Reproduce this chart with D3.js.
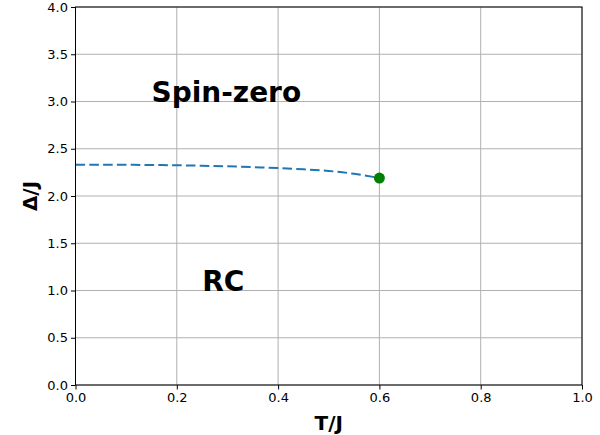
<!DOCTYPE html>
<html>
<head>
<meta charset="utf-8">
<script src="https://cdn.jsdelivr.net/npm/d3@7"></script>
<style>
  body { margin: 0; background: #fff; }
  svg { font-family: "DejaVu Sans", sans-serif; }
  .axis text { font-size: 13px; fill: #000; font-family: "DejaVu Sans", sans-serif; }
  .axis path, .axis line { stroke: #000; }
</style>
</head>
<body>
<svg id="chart" width="600" height="435"></svg>
<script>
// boundary line Delta(T)
var tVals = [0, 0.05, 0.1, 0.15, 0.2, 0.25, 0.3, 0.35, 0.4, 0.45, 0.5, 0.55, 0.6]
var deltaVals = [2.33, 2.33, 2.33, 2.328, 2.325, 2.32, 2.314, 2.305, 2.295, 2.282, 2.265, 2.235, 2.19]
// end point
var endT = [0.6]
var endDelta = [2.19]
var xTicks = [0, 0.2, 0.4, 0.6, 0.8, 1.0]
var yTicks = [0, 0.5, 1.0, 1.5, 2.0, 2.5, 3.0, 3.5, 4.0]
var regionNames = ['Spin-zero', 'RC']
var regionT = [0.15, 0.25]
var regionDelta = [3.0, 1.0]

var svg = d3.select('#chart')
var padL = 75.5, padR = 582, padT = 7, padB = 385

var x = d3.scaleLinear().domain([0, 1]).range([padL, padR])
var y = d3.scaleLinear().domain([0, 4]).range([padB, padT])

// grid
svg.append('g').selectAll('line')
    .data(xTicks)
    .join('line')
    .attr('x1', d => x(d)).attr('x2', d => x(d))
    .attr('y1', padT).attr('y2', padB)
    .attr('stroke', '#b0b0b0').attr('stroke-width', 1)
svg.append('g').selectAll('line')
    .data(yTicks)
    .join('line')
    .attr('y1', d => y(d)).attr('y2', d => y(d))
    .attr('x1', padL).attr('x2', padR)
    .attr('stroke', '#b0b0b0').attr('stroke-width', 1)

// axes
var xAxis = d3.axisBottom(x).tickValues(xTicks).tickFormat(d3.format('.1f')).tickSizeInner(4.5).tickSizeOuter(0).tickPadding(3)
var yAxis = d3.axisLeft(y).tickValues(yTicks).tickFormat(d3.format('.1f')).tickSizeInner(4.5).tickSizeOuter(0).tickPadding(3)
svg.append('g').attr('class', 'axis')
    .attr('transform', `translate(0,${padB})`)
    .call(xAxis)
    .call(g => g.select('.domain').remove())
svg.append('g').attr('class', 'axis')
    .attr('transform', `translate(${padL},0)`)
    .call(yAxis)
    .call(g => g.select('.domain').remove())

// data line
var line = d3.line()
    .x((d, i) => x(tVals[i]))
    .y(d => y(d))
    .curve(d3.curveMonotoneX)
svg.append('path')
    .datum(deltaVals)
    .attr('d', line)
    .attr('fill', 'none')
    .attr('stroke', '#1f77b4')
    .attr('stroke-width', 2)
    .attr('stroke-dasharray', '9.6,4.2')

svg.selectAll('.endpt')
    .data(endT)
    .join('circle')
    .attr('class', 'endpt')
    .attr('cx', d => x(d))
    .attr('cy', (d, i) => y(endDelta[i]))
    .attr('r', 5.5)
    .attr('fill', '#008000')

// frame
svg.append('rect')
    .attr('x', padL).attr('y', padT)
    .attr('width', padR - padL).attr('height', padB - padT)
    .attr('fill', 'none').attr('stroke', '#000').attr('stroke-width', 1)

// region labels
svg.selectAll('.region')
    .data(regionNames)
    .join('text')
    .attr('class', 'region')
    .attr('x', (d, i) => x(regionT[i]))
    .attr('y', (d, i) => y(regionDelta[i]))
    .attr('font-size', 28)
    .attr('font-weight', 'bold')
    .text(d => d)

// axis labels
svg.append('text')
    .attr('x', (padL + padR) / 2).attr('y', 430)
    .attr('text-anchor', 'middle')
    .attr('font-size', 20).attr('font-weight', 'bold')
    .text('T/J')
svg.append('text')
    .attr('transform', `translate(37,${(padT + padB) / 2}) rotate(-90)`)
    .attr('text-anchor', 'middle')
    .attr('font-size', 20).attr('font-weight', 'bold')
    .text('Δ/J')
</script>
</body>
</html>
